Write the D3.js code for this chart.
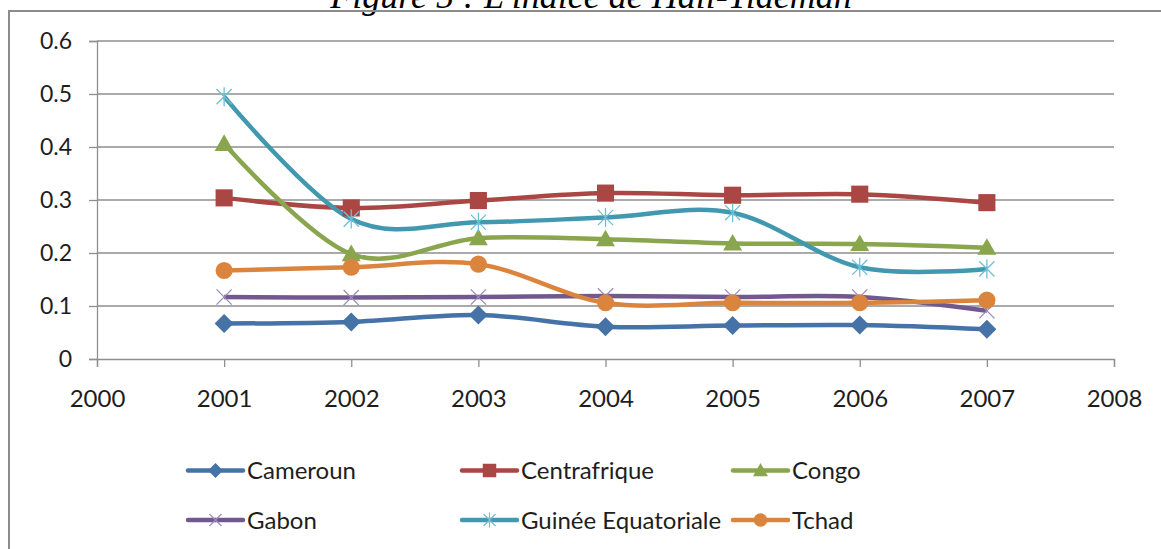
<!DOCTYPE html>
<html>
<head>
<meta charset="utf-8">
<script src="https://cdn.jsdelivr.net/npm/d3@7/dist/d3.min.js"></script>
<style>
  html, body { margin: 0; padding: 0; background: #fff; }
  svg { display: block; }
  text { font-family: Lato, "Open Sans", sans-serif; fill: #1e1e1e; }
</style>
</head>
<body>
<svg id="chart" width="1161" height="549"></svg>
<script>
// Hall-Tideman index by country, 2001-2007
const years = [2001, 2002, 2003, 2004, 2005, 2006, 2007];
const cameroun     = [0.067, 0.070, 0.083, 0.061, 0.063, 0.064, 0.056];
const centrafrique = [0.304, 0.285, 0.299, 0.313, 0.309, 0.311, 0.295];
const congo        = [0.406, 0.198, 0.228, 0.226, 0.218, 0.217, 0.210];
const gabon        = [0.117, 0.116, 0.117, 0.119, 0.117, 0.117, 0.091];
const guinee       = [0.495, 0.264, 0.258, 0.267, 0.276, 0.173, 0.170];
const tchad        = [0.167, 0.173, 0.179, 0.106, 0.106, 0.106, 0.111];

const xTicks = [2000, 2001, 2002, 2003, 2004, 2005, 2006, 2007, 2008];
const yTicks = [0, 0.1, 0.2, 0.3, 0.4, 0.5, 0.6];
const titleText = "Figure 5 : L'indice de Hall-Tideman";

const series = [
  { name: "Cameroun",            values: cameroun,     color: "#4572A7", marker: "diamond" },
  { name: "Centrafrique",        values: centrafrique, color: "#AA4643", marker: "square" },
  { name: "Congo",               values: congo,        color: "#89A54E", marker: "triangle" },
  { name: "Gabon",               values: gabon,        color: "#71588F", marker: "x",    markerColor: "#9d8bbd" },
  { name: "Guinée Equatoriale",  values: guinee,       color: "#4198AF", marker: "star", markerColor: "#6cc0d6" },
  { name: "Tchad",               values: tchad,        color: "#DB843D", marker: "circle" }
];

const svg = d3.select("#chart");

// Document caption sitting just above the chart frame (page edge trims its top)
svg.append("text")
  .attr("x", 591).attr("y", 8)
  .attr("text-anchor", "middle")
  .style("font-family", "'Liberation Serif', 'Times New Roman', serif")
  .style("font-style", "italic")
  .style("font-size", "36px")
  .style("fill", "#000")
  .text(titleText);

// Chart frame (top and left edges)
svg.append("path")
  .attr("d", "M9,549 L9,11 L1161,11")
  .attr("fill", "none")
  .attr("stroke", "#8c8c8c")
  .attr("stroke-width", 2);

const x = d3.scaleLinear().domain([2000, 2008]).range([97, 1114]);
const y = d3.scaleLinear().domain([0, 0.6]).range([359, 41]);

// Horizontal gridlines
svg.append("g")
  .selectAll("line")
  .data(yTicks.filter(d => d > 0))
  .join("line")
  .attr("x1", x(2000)).attr("x2", x(2008))
  .attr("y1", d => y(d)).attr("y2", d => y(d))
  .attr("stroke", "#8e8e8e").attr("stroke-width", 1.3);

// Y axis
const yAxis = svg.append("g")
  .attr("transform", `translate(${x(2000)},0)`)
  .call(d3.axisLeft(y).tickValues(yTicks).tickSize(8).tickPadding(17)
    .tickFormat(d => d === 0 ? "0" : d3.format(".1f")(d)));
yAxis.select(".domain").attr("stroke", "#8e8e8e").attr("stroke-width", 1.3);
yAxis.selectAll(".tick line").attr("stroke", "#8e8e8e").attr("stroke-width", 1.3);
yAxis.selectAll(".tick text").style("font-size", "23px").style("fill", "#1e1e1e");

// X axis
const xAxis = svg.append("g")
  .attr("transform", `translate(0,${y(0)})`)
  .call(d3.axisBottom(x).tickValues(xTicks).tickSize(8).tickPadding(23)
    .tickFormat(d3.format("d")));
xAxis.select(".domain").attr("stroke", "#8e8e8e").attr("stroke-width", 1.3);
xAxis.selectAll(".tick line").attr("stroke", "#8e8e8e").attr("stroke-width", 1.3);
xAxis.selectAll(".tick text").style("font-size", "24px").style("fill", "#1e1e1e");

// Marker shapes
function drawMarker(g, type, cx, cy, s, color, thin) {
  const h = s / 2;
  if (type === "diamond") {
    g.append("path").attr("d", `M${cx},${cy - h} L${cx + h},${cy} L${cx},${cy + h} L${cx - h},${cy} Z`)
      .attr("fill", color);
  } else if (type === "square") {
    const q = h * 0.9;
    g.append("rect").attr("x", cx - q).attr("y", cy - q).attr("width", 2 * q).attr("height", 2 * q)
      .attr("fill", color);
  } else if (type === "triangle") {
    g.append("path").attr("d", `M${cx},${cy - h} L${cx + h},${cy + h * 0.75} L${cx - h},${cy + h * 0.75} Z`)
      .attr("fill", color);
  } else if (type === "circle") {
    g.append("circle").attr("cx", cx).attr("cy", cy).attr("r", h * 0.9).attr("fill", color);
  } else if (type === "x") {
    const q = h * 0.8;
    g.append("path").attr("d", `M${cx - q},${cy - q} L${cx + q},${cy + q} M${cx - q},${cy + q} L${cx + q},${cy - q}`)
      .attr("stroke", color).attr("stroke-width", thin).attr("fill", "none");
  } else if (type === "star") {
    const q = h * 0.8;
    g.append("path").attr("d", `M${cx - q},${cy - q} L${cx + q},${cy + q} M${cx - q},${cy + q} L${cx + q},${cy - q} M${cx},${cy - h} L${cx},${cy + h}`)
      .attr("stroke", color).attr("stroke-width", thin).attr("fill", "none");
  }
}

// Smoothed lines
const line = d3.line()
  .x((d, i) => x(years[i]))
  .y(d => y(d))
  .curve(d3.curveCardinal.tension(0));

const plot = svg.append("g");
series.forEach(s => {
  plot.append("path")
    .datum(s.values)
    .attr("d", line)
    .attr("fill", "none")
    .attr("stroke", s.color)
    .attr("stroke-width", 4.5)
    .attr("stroke-linejoin", "round");
});
series.forEach(s => {
  const g = plot.append("g");
  s.values.forEach((v, i) => {
    drawMarker(g, s.marker, x(years[i]), y(v), 19, s.markerColor || s.color, 1.3);
  });
});

// Legend: three columns, two rows
const legCols = [188, 462, 733];
const legRows = [470.5, 520];
series.forEach((s, i) => {
  const lx = legCols[i % 3];
  const ly = legRows[Math.floor(i / 3)];
  const g = svg.append("g");
  g.append("line")
    .attr("x1", lx).attr("x2", lx + 55)
    .attr("y1", ly).attr("y2", ly)
    .attr("stroke", s.color).attr("stroke-width", 4.5).attr("stroke-linecap", "round");
  drawMarker(g, s.marker, lx + 27.5, ly, 15, s.markerColor || s.color, 1.1);
  g.append("text")
    .attr("x", lx + 59).attr("y", ly)
    .attr("dy", "0.36em")
    .style("font-size", "24px")
    .text(s.name);
});
</script>
</body>
</html>
